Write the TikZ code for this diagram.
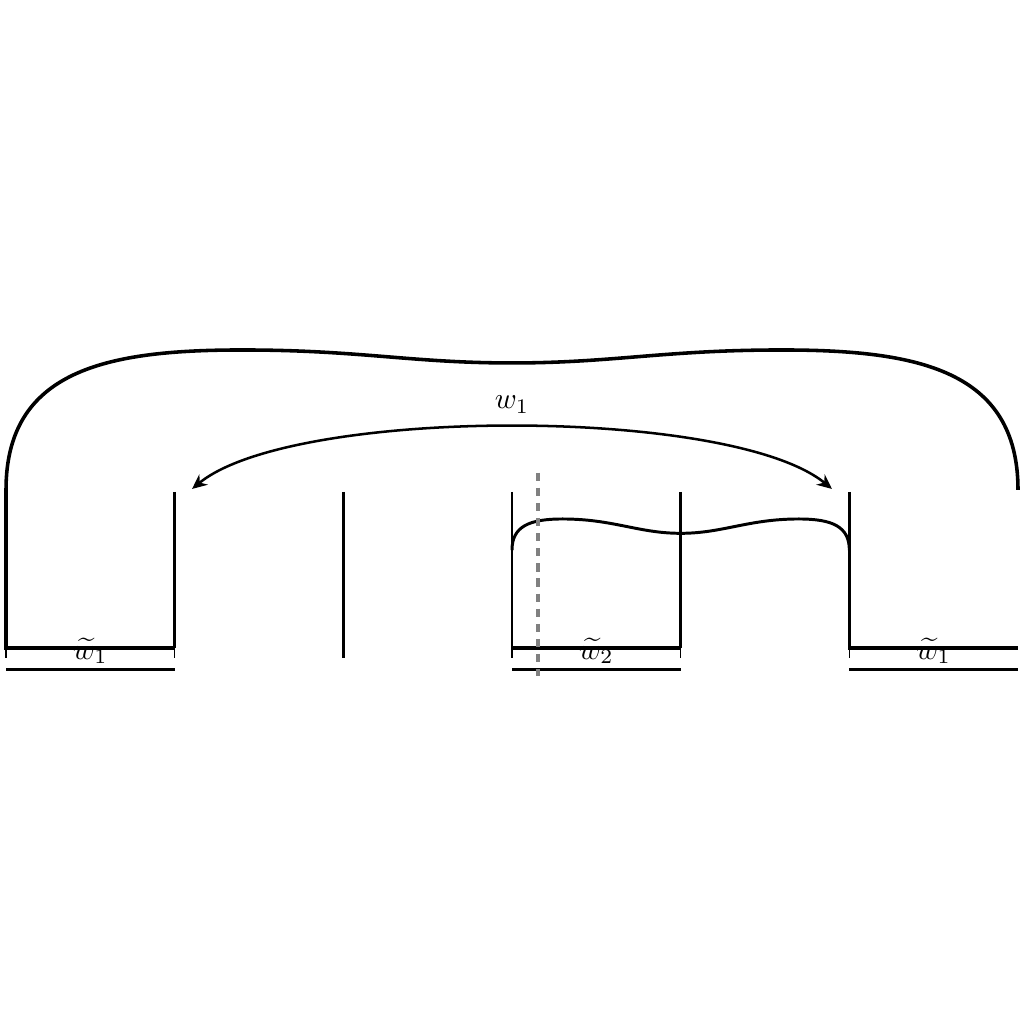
\documentclass[tikz,border=0pt]{standalone}
\usetikzlibrary{arrows.meta}
\begin{document}
\begin{tikzpicture}[x=2cm,y=2cm,
  wall/.style={line width=1pt},
  heavy/.style={line width=1.2pt},
  ticky/.style={line width=0.5pt},
  dimline/.style={line width=0.95pt},
  guide/.style={gray,line width=1.3pt,dash pattern=on 2.8pt off 2.3pt},
  lbl/.style={inner sep=0pt}]
\useasboundingbox (-0.0356,-2.229) rectangle (6.0356,3.842);
% coordinates
\foreach \i in {0,...,6} {
  \coordinate (b\i) at (\i,0);
  \coordinate (t\i) at (\i,0.925);
  \coordinate (k\i) at (\i,-0.06);
  \coordinate (d\i) at (\i,-0.127);
}
\coordinate (cl) at (0,0.937);
\coordinate (cr) at (6,0.937);
\coordinate (ctl) at (1.4,1.767);
\coordinate (cmid) at (3,1.69);
\coordinate (ctr) at (4.6,1.767);
% big curve with left box
\draw[heavy] (b1) -- (b0) -- (cl)
  .. controls (0,1.65) and (0.6,1.767) .. (ctl)
  .. controls (2.1,1.767) and (2.4,1.69) .. (cmid)
  .. controls (3.6,1.69) and (3.9,1.767) .. (ctr)
  .. controls (5.4,1.767) and (6,1.65) .. (cr);
\draw[wall] (t1) -- (b1);
% middle line
\draw[heavy] (t2) -- (k2);
% middle box
\draw[wall] (t3) -- (b3);
\draw[wall] (t4) -- (b4);
\draw[heavy] (b3) -- (b4);
% right box
\draw[heavy] (t5) -- (b5) -- (b6);
% wavy curve
\coordinate (wl) at (3,0.58);
\coordinate (wr) at (5,0.58);
\coordinate (wm) at (4,0.68);
\draw[wall] (wl) .. controls (3,0.72) and (3.1,0.765) .. (3.3,0.765)
  .. controls (3.6,0.765) and (3.75,0.68) .. (wm)
  .. controls (4.25,0.68) and (4.4,0.765) .. (4.7,0.765)
  .. controls (4.9,0.765) and (5,0.72) .. (wr);
% ticks
\foreach \i in {0,1,3,4,5} { \draw[ticky] (b\i) -- (k\i); }
% lower dimension lines
\draw[dimline] (d0) -- (d1);
\draw[dimline] (d3) -- (d4);
\draw[dimline] (d5) -- (d6);
% labels
\node[lbl] (l1) at (0.5,-0.018) {$\widetilde{w}_1$};
\node[lbl] (l2) at (3.5,-0.018) {$\widetilde{w}_2$};
\node[lbl] (l3) at (5.5,-0.018) {$\widetilde{w}_1$};
% dashed guide
\coordinate (gt) at (3.154,1.04);
\coordinate (gb) at (3.154,-0.166);
\draw[guide] (gt) -- (gb);
% arrow
\coordinate (al) at (1.103,0.943);
\coordinate (ar) at (4.897,0.943);
\draw[line width=0.85pt,{Stealth[length=5pt,width=4.5pt]}-{Stealth[length=5pt,width=4.5pt]}]
  (al) .. controls (1.7,1.433) and (4.3,1.433) .. (ar);
\node[lbl] (wl1) at (3,1.442) {$w_1$};
\end{tikzpicture}
\end{document}
